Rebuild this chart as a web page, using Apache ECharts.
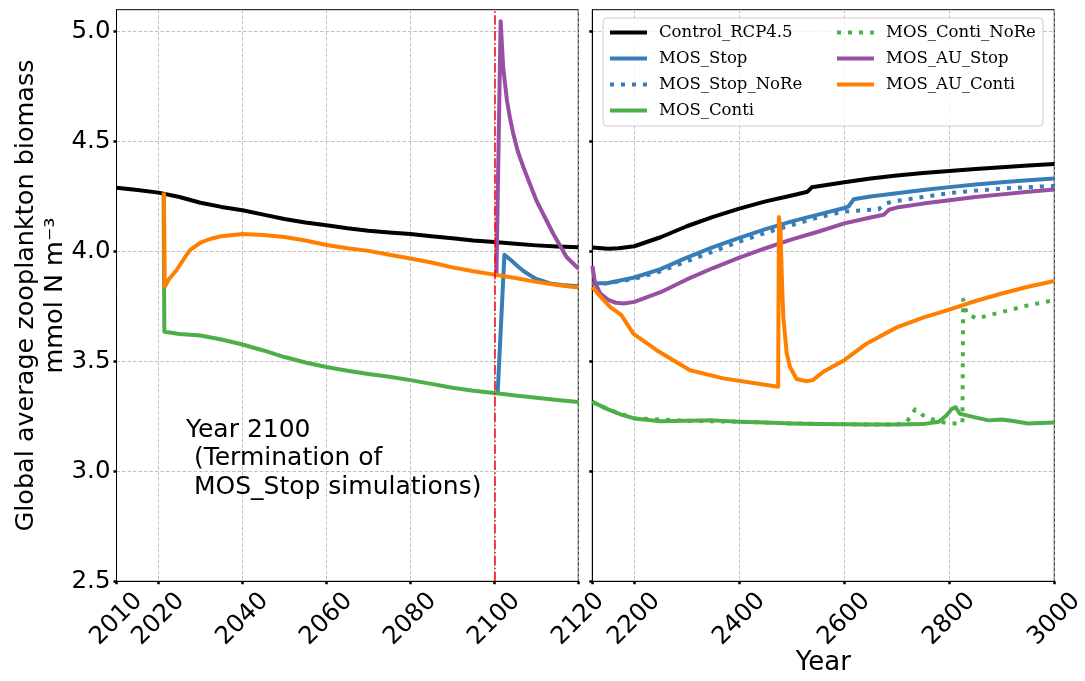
<!DOCTYPE html>
<html><head><meta charset="utf-8">
<script src="https://cdn.jsdelivr.net/npm/echarts@6/dist/echarts.min.js"></script>
<style>html,body{margin:0;padding:0;background:#fff}#c{width:1085px;height:681px}</style>
</head><body><div id="c"></div><script>
// ---------- data ----------
const leftTickYears = [2010, 2020, 2040, 2060, 2080, 2100, 2120];
const rightTickYears = [2120, 2200, 2400, 2600, 2800, 3000];
const rightLabelYears = [2200, 2400, 2600, 2800, 3000];
const yTicks = [2.5, 3.0, 3.5, 4.0, 4.5, 5.0];
const terminationYear = 2100;

const ctrlLeftYears = [2010,2015,2020,2025,2030,2035,2040,2045,2050,2055,2060,2065,2070,2075,2080,2085,2090,2095,2100,2105,2110,2115,2120];
const ctrlLeftVals  = [4.29,4.28,4.268,4.248,4.222,4.203,4.188,4.168,4.148,4.132,4.12,4.106,4.095,4.087,4.08,4.07,4.06,4.05,4.043,4.035,4.028,4.023,4.02];
const ctrlRightYears = [2120,2150,2170,2200,2250,2300,2350,2400,2450,2500,2530,2538,2560,2600,2650,2700,2750,2800,2850,2900,2950,3000];
const ctrlRightVals  = [4.018,4.013,4.015,4.024,4.065,4.115,4.158,4.195,4.228,4.255,4.272,4.292,4.3,4.315,4.332,4.346,4.357,4.366,4.375,4.383,4.391,4.398];

const stopLeftYears = [2100.8,2102.4,2104,2105.3,2107,2108.5,2110,2113.3,2116,2120];
const stopLeftVals  = [3.36,3.985,3.96,3.938,3.91,3.892,3.875,3.855,3.848,3.842];
const stopRightYears = [2120,2150,2200,2250,2300,2350,2400,2450,2500,2550,2600,2608,2618,2650,2700,2750,2800,2850,2900,2950,3000];
const stopRightVals  = [3.855,3.857,3.882,3.92,3.972,4.02,4.062,4.102,4.137,4.168,4.198,4.205,4.238,4.25,4.265,4.28,4.293,4.305,4.315,4.324,4.332];

const stopNoReRightYears = [2120,2150,2200,2250,2300,2350,2400,2450,2500,2550,2600,2650,2665,2680,2700,2750,2800,2850,2900,2950,3000];
const stopNoReRightVals  = [3.855,3.855,3.876,3.91,3.955,4.0,4.045,4.085,4.12,4.155,4.182,4.19,4.192,4.22,4.23,4.248,4.266,4.277,4.286,4.293,4.298];

const contiLeftYears = [2021.2,2021.4,2025,2030,2035,2040,2045,2050,2055,2060,2065,2070,2075,2080,2085,2090,2095,2100,2105,2110,2115,2120];
const contiLeftVals  = [4.268,3.635,3.625,3.618,3.6,3.577,3.55,3.52,3.495,3.475,3.458,3.443,3.43,3.415,3.398,3.38,3.367,3.357,3.345,3.335,3.325,3.316];
const contiRightYears = [2120,2150,2175,2200,2250,2300,2350,2400,2450,2500,2550,2600,2650,2700,2750,2780,2795,2805,2812,2820,2845,2875,2900,2925,2950,2975,3000];
const contiRightVals  = [3.316,3.282,3.258,3.241,3.228,3.23,3.232,3.226,3.222,3.218,3.216,3.214,3.213,3.213,3.215,3.226,3.255,3.285,3.292,3.262,3.248,3.232,3.236,3.228,3.218,3.22,3.222];

const contiNoReRightYears = [2120,2150,2200,2300,2400,2500,2600,2700,2718,2735,2750,2770,2790,2810,2825,2826.5,2833,2852,2875,2900,2950,3000];
const contiNoReRightVals  = [3.316,3.282,3.241,3.23,3.226,3.218,3.214,3.213,3.222,3.282,3.255,3.235,3.222,3.218,3.218,3.782,3.718,3.695,3.71,3.725,3.755,3.779];

const auStopLeftYears = [2100.5,2101.5,2102.1,2103,2103.7,2104.5,2105.6,2106.9,2108.1,2110,2112,2114,2117.2,2120];
const auStopLeftVals  = [3.895,5.048,4.84,4.688,4.61,4.537,4.455,4.385,4.325,4.233,4.157,4.082,3.975,3.923];
const auStopRightYears = [2120,2125,2135,2150,2165,2180,2200,2250,2300,2350,2400,2450,2500,2550,2600,2650,2675,2685,2700,2750,2800,2850,2900,2950,3000];
const auStopRightVals  = [3.935,3.86,3.81,3.78,3.767,3.764,3.771,3.815,3.873,3.925,3.972,4.015,4.055,4.09,4.128,4.155,4.167,4.19,4.2,4.218,4.233,4.248,4.26,4.272,4.282];

const auContiLeftYears = [2021.3,2021.5,2022.5,2024.3,2026,2027.5,2030,2032.3,2035,2040,2045,2050,2055,2060,2065,2070,2075,2080,2085,2090,2095,2100,2105,2110,2115,2120];
const auContiLeftVals  = [4.268,3.839,3.875,3.915,3.965,4.006,4.04,4.057,4.07,4.08,4.075,4.066,4.05,4.03,4.015,4.003,3.985,3.968,3.95,3.928,3.91,3.895,3.88,3.862,3.848,3.836];
const auContiRightYears = [2120,2130,2153.7,2175,2198,2242.6,2306,2369.5,2433,2474,2475.5,2478.5,2481.4,2483.8,2490.3,2496.6,2509,2528,2540,2560,2600,2643,2700,2750,2800,2850,2900,2950,3000];
const auContiRightVals  = [3.839,3.81,3.748,3.712,3.627,3.551,3.46,3.423,3.40,3.385,4.157,4.1,3.856,3.703,3.537,3.475,3.42,3.41,3.415,3.453,3.506,3.582,3.655,3.699,3.736,3.775,3.809,3.84,3.866];

const names = ['Control_RCP4.5','MOS_Stop','MOS_Stop_NoRe','MOS_Conti','MOS_Conti_NoRe','MOS_AU_Stop','MOS_AU_Conti'];
const legendCol1 = names.slice(0, 4);
const legendCol2 = names.slice(4);

// ---------- styling / build ----------
const colors = {
  'Control_RCP4.5': '#000000', 'MOS_Stop': '#377eb8', 'MOS_Stop_NoRe': '#377eb8',
  'MOS_Conti': '#4daf4a', 'MOS_Conti_NoRe': '#4daf4a', 'MOS_AU_Stop': '#984ea3', 'MOS_AU_Conti': '#ff7f00'
};
const dotted = [4, 7];
const zip = (a, b) => a.map((v, i) => [v, b[i]]);
function mk(name, idx, xs, ys, isDotted) {
  return {
    name, type: 'line', xAxisIndex: idx, yAxisIndex: idx, data: zip(xs, ys),
    symbol: 'none', smooth: false, silent: true,
    lineStyle: { color: colors[name], width: 4, type: isDotted ? dotted : 'solid', cap: 'butt', join: 'round' },
    itemStyle: { color: colors[name] },
    emphasis: { disabled: true }
  };
}
const series = [
  mk('Control_RCP4.5', 0, ctrlLeftYears, ctrlLeftVals),
  mk('MOS_Stop', 0, stopLeftYears, stopLeftVals),
  mk('MOS_Conti', 0, contiLeftYears, contiLeftVals),
  mk('MOS_AU_Stop', 0, auStopLeftYears, auStopLeftVals),
  mk('MOS_AU_Conti', 0, auContiLeftYears, auContiLeftVals),
  mk('Control_RCP4.5', 1, ctrlRightYears, ctrlRightVals),
  mk('MOS_Stop', 1, stopRightYears, stopRightVals),
  mk('MOS_Stop_NoRe', 1, stopNoReRightYears, stopNoReRightVals, true),
  mk('MOS_Conti', 1, contiRightYears, contiRightVals),
  mk('MOS_Conti_NoRe', 1, contiNoReRightYears, contiNoReRightVals, true),
  mk('MOS_AU_Stop', 1, auStopRightYears, auStopRightVals),
  mk('MOS_AU_Conti', 1, auContiRightYears, auContiRightVals),
  {
    name: '__termination', type: 'line', xAxisIndex: 0, yAxisIndex: 0, data: [], z: 10, silent: true,
    markLine: {
      silent: true, symbol: ['none', 'none'], label: { show: false }, animation: false,
      lineStyle: { color: '#ff0000', width: 1.5, type: [9.6, 2.4, 1.5, 2.4] },
      emphasis: { disabled: true },
      data: [{ xAxis: terminationYear }]
    }
  }
];

const FONT = 'DejaVu Sans';
const TICKFS = 24.5;
const gridLine = { show: true, lineStyle: { color: '#b0b0b0', width: 0.8, type: [3.5, 2] } };
const tick = { show: true, length: 3, lineStyle: { color: '#000', width: 2.5 } };
function xAx(idx, min, max, ticks, labels, name) {
  return {
    type: 'value', gridIndex: idx, min, max,
    axisLine: { show: true, onZero: false, lineStyle: { color: '#000', width: 1 } },
    axisTick: Object.assign({ customValues: ticks }, tick),
    splitLine: gridLine,
    axisLabel: { customValues: labels, rotate: 45, align: 'center', verticalAlign: 'middle', margin: 38,
      color: '#000', fontFamily: FONT, fontSize: TICKFS, formatter: v => String(v) },
    name: name || '', nameLocation: 'middle', nameGap: 69, nameMoveOverlap: false,
    nameTextStyle: { color: '#000', fontFamily: FONT, fontSize: 26 }
  };
}
function yAx(idx, showLabels) {
  return {
    type: 'value', gridIndex: idx, min: 2.5, max: 5.1,
    axisLine: { show: true, onZero: false, lineStyle: { color: '#000', width: 1 } },
    axisTick: Object.assign({ customValues: yTicks }, tick),
    splitLine: gridLine,
    axisLabel: { show: showLabels, customValues: yTicks, margin: 6, color: '#000', fontFamily: FONT, fontSize: TICKFS,
      formatter: v => v.toFixed(1) },
    name: showLabels ? 'Global average zooplankton biomass\nmmol N m\u207B\u00B3' : '',
    nameLocation: 'middle', nameRotate: 90, nameGap: 47, nameMoveOverlap: false,
    nameTextStyle: { color: '#000', fontFamily: FONT, fontSize: 25.5, lineHeight: 29, align: 'center' }
  };
}
const legendCommon = {
  orient: 'vertical', itemWidth: 37, itemHeight: 14, itemGap: 9, z: 20, padding: 0,
  selectedMode: false,
  lineStyle: { width: 4 },
  itemStyle: { color: 'rgba(0,0,0,0)', borderWidth: 0, opacity: 0 },
  textStyle: { fontFamily: 'DejaVu Serif', fontSize: 16.5, color: '#000', padding: [0, 0, 0, 7] }
};
const gridCommon = { top: 9.7, bottom: 99.7, show: true, borderColor: '#000', borderWidth: 1,
  containLabel: false, outerBoundsMode: 'none' };

const chart = echarts.init(document.getElementById('c'), null, { renderer: 'canvas' });
chart.setOption({
  animation: false,
  backgroundColor: '#ffffff',
  grid: [
    Object.assign({ left: 116.5, right: 506.7 }, gridCommon),
    Object.assign({ left: 592.3, right: 30.7 }, gridCommon)
  ],
  xAxis: [
    xAx(0, 2010, 2120, leftTickYears, leftTickYears),
    xAx(1, 2120, 3000, rightTickYears, rightLabelYears, 'Year')
  ],
  yAxis: [yAx(0, true), yAx(1, false)],
  legend: [
    Object.assign({ data: legendCol1, left: 608, top: 24 }, legendCommon),
    Object.assign({ data: legendCol2, left: 835, top: 24 }, legendCommon)
  ],
  graphic: [
    { type: 'rect', z: 15, shape: { x: 603, y: 18, width: 440, height: 108, r: 4 },
      style: { fill: 'rgba(255,255,255,0.8)', stroke: '#cccccc', lineWidth: 1 } },
    { type: 'text', z: 15, left: 186, top: 416,
      style: { text: 'Year 2100\n (Termination of\n MOS_Stop simulations)', font: '25px "DejaVu Sans"',
        lineHeight: 28.5, fill: '#000', textAlign: 'left' } }
  ],
  series
});
</script></body></html>
